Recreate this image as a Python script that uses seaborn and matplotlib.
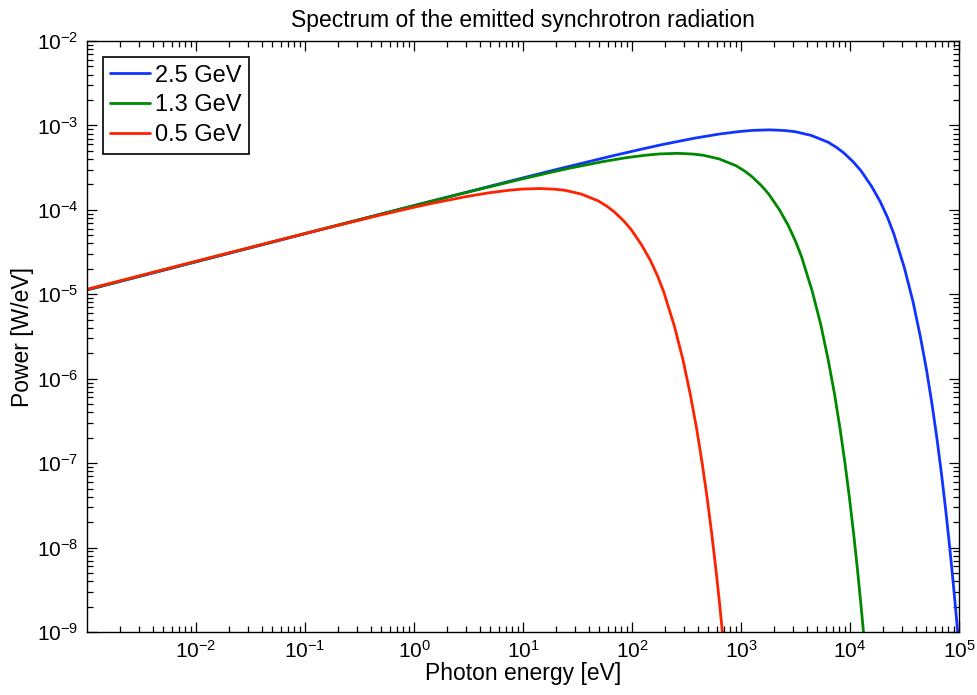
import numpy as np
import pandas as pd
import matplotlib
matplotlib.use("Agg")
import matplotlib.pyplot as plt
import seaborn as sns
from matplotlib.ticker import LogLocator, NullFormatter

# values (photon energy in eV, power in W/eV)
energy_25 = [1e-3, 1e-2, 1e-1, 1, 6.3, 18.9, 63, 126, 189, 378, 630, 945,
             1260, 1827, 2520, 3150, 4410, 6300, 7560, 8820, 10710, 12600,
             15750, 18900, 22050, 25200, 31500, 37800, 44100, 50400, 56700,
             63000, 69300, 75600, 81900, 88200, 94500, 1e5]
power_25 = [1.124e-5, 2.422e-5, 5.218e-5, 1.124e-4, 2.059e-4, 2.942e-4,
            4.299e-4, 5.284e-4, 5.931e-4, 7.081e-4, 7.902e-4, 8.443e-4,
            8.733e-4, 8.868e-4, 8.704e-4, 8.424e-4, 7.612e-4, 6.327e-4,
            5.468e-4, 4.695e-4, 3.700e-4, 2.908e-4, 1.903e-4, 1.256e-4,
            8.163e-5, 5.226e-5, 2.067e-5, 8.21e-6, 3.19e-6, 1.259e-6,
            4.86e-7, 1.874e-7, 7.17e-8, 2.74e-8, 1.044e-8, 3.98e-9,
            1.507e-9, 6.46e-10]

energy_13 = [1e-3, 1e-2, 1e-1, 0.9, 2.7, 9, 18, 27, 54, 90, 135, 180, 261,
             360, 450, 630, 900, 1080, 1260, 1530, 1800, 2250, 2700, 3150,
             3600, 4500, 5400, 6300, 7200, 8100, 9000, 9900, 10800, 11700,
             12600, 13500]
power_13 = [1.133e-5, 2.441e-5, 5.259e-5, 1.085e-4, 1.550e-4, 2.265e-4,
            2.784e-4, 3.125e-4, 3.731e-4, 4.164e-4, 4.449e-4, 4.601e-4,
            4.673e-4, 4.586e-4, 4.438e-4, 4.011e-4, 3.334e-4, 2.881e-4,
            2.474e-4, 1.949e-4, 1.532e-4, 1.003e-4, 6.617e-5, 4.301e-5,
            2.754e-5, 1.089e-5, 4.33e-6, 1.68e-6, 6.63e-7, 2.56e-7,
            9.87e-8, 3.78e-8, 1.446e-8, 5.50e-9, 2.097e-9, 7.94e-10]

energy_05 = [1e-3, 1e-2, 0.049, 0.147, 0.49, 0.98, 1.47, 2.94, 4.9, 7.35,
             9.8, 14.21, 19.6, 24.5, 34.3, 49, 58.8, 68.6, 83.3, 98, 122.5,
             147, 171.5, 196, 245, 294, 343, 392, 441, 490, 539, 588, 637,
             686]
power_05 = [1.146e-5, 2.465e-5, 4.155e-5, 5.940e-5, 8.678e-5, 1.067e-4,
            1.197e-4, 1.429e-4, 1.595e-4, 1.704e-4, 1.763e-4, 1.790e-4,
            1.757e-4, 1.700e-4, 1.537e-4, 1.277e-4, 1.104e-4, 9.48e-5,
            7.47e-5, 5.87e-5, 3.84e-5, 2.535e-5, 1.648e-5, 1.055e-5,
            4.17e-6, 1.658e-6, 6.44e-7, 2.54e-7, 9.81e-8, 3.78e-8,
            1.447e-8, 5.54e-9, 2.108e-9, 8.03e-10]

labels = ["2.5 GeV", "1.3 GeV", "0.5 GeV"]
colors = ["#1133ff", "#008800", "#ff2200"]

# long table for seaborn
df = pd.concat([
    pd.DataFrame({"energy": energy_25, "power": power_25, "beam": labels[0]}),
    pd.DataFrame({"energy": energy_13, "power": power_13, "beam": labels[1]}),
    pd.DataFrame({"energy": energy_05, "power": power_05, "beam": labels[2]}),
], ignore_index=True)

sns.set_style("ticks")
plt.rcParams["font.family"] = ["Liberation Sans", "DejaVu Sans"]
plt.rcParams["mathtext.default"] = "regular"
plt.rcParams["text.color"] = "black"
plt.rcParams["axes.labelcolor"] = "black"

fig = plt.figure(figsize=(9.78, 6.95), dpi=100)
ax = fig.add_axes([0.089, 0.0906, 0.8916, 0.8504])

sns.lineplot(data=df, x="energy", y="power", hue="beam", hue_order=labels,
             palette=colors, linewidth=2.0, estimator=None, sort=False, ax=ax)

ax.set_xscale("log")
ax.set_yscale("log")
ax.set_xlim(1e-3, 1e5)
ax.set_ylim(1e-9, 1e-2)
ax.set_xticks([10.0 ** k for k in range(-2, 6)])
ax.set_yticks([10.0 ** k for k in range(-9, -1)])
ax.xaxis.set_minor_locator(LogLocator(base=10, subs=np.arange(2, 10), numticks=20))
ax.yaxis.set_minor_locator(LogLocator(base=10, subs=np.arange(2, 10), numticks=20))
ax.xaxis.set_minor_formatter(NullFormatter())
ax.yaxis.set_minor_formatter(NullFormatter())

ax.tick_params(which="both", direction="in", top=True, right=True,
               width=0.9, colors="black", labelsize=15)
ax.tick_params(which="major", length=7, pad=6)
ax.tick_params(which="minor", length=4)
for s in ax.spines.values():
    s.set_visible(True)
    s.set_linewidth(1.0)
    s.set_color("black")

ax.set_xlabel("Photon energy [eV]", fontsize=16.5, labelpad=0, color="black")
ax.set_ylabel("Power [W/eV]", fontsize=16.5, labelpad=2, color="black")
ax.set_title("Spectrum of the emitted synchrotron radiation", fontsize=16.5,
             pad=10, color="black")

leg = ax.legend(loc="upper left", bbox_to_anchor=(0.018, 0.973), borderaxespad=0,
                fontsize=17, handlelength=1.7, handletextpad=0.2,
                labelspacing=0.33, borderpad=0.32, fancybox=False,
                framealpha=1, edgecolor="black")
leg.get_frame().set_linewidth(1.2)
for t in leg.get_texts():
    t.set_color("black")
for h in leg.get_lines():
    h.set_linewidth(2.0)

fig.savefig("out.png", dpi=100)
